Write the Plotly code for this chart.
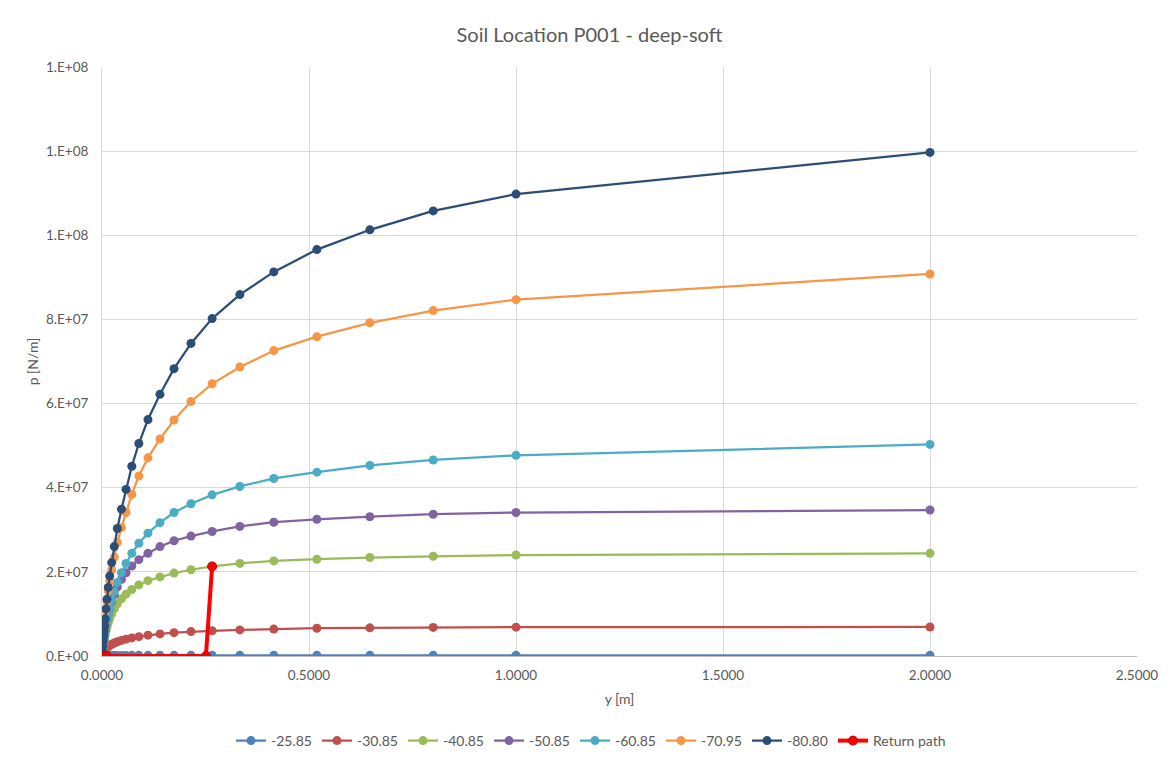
import plotly.graph_objects as go

# Displacement grid y [m]
y_m = [0, 0.001, 0.002, 0.003, 0.004, 0.0052, 0.0065, 0.008, 0.0097, 0.012,
       0.0152, 0.0186, 0.0235, 0.0297, 0.037, 0.047, 0.058, 0.072, 0.089, 0.111,
       0.140, 0.174, 0.215, 0.266, 0.333, 0.415, 0.519, 0.647, 0.80, 1.0, 2.0]

p_2585 = [0, 0.02e6, 0.04e6, 0.05e6, 0.06e6, 0.07e6, 0.08e6, 0.09e6, 0.10e6, 0.11e6,
          0.12e6, 0.12e6, 0.13e6, 0.13e6, 0.14e6, 0.14e6, 0.14e6, 0.15e6, 0.15e6, 0.15e6,
          0.15e6, 0.15e6, 0.15e6, 0.15e6, 0.15e6, 0.15e6, 0.15e6, 0.15e6, 0.15e6, 0.15e6, 0.15e6]
p_3085 = [0, 0.3e6, 0.55e6, 0.75e6, 0.95e6, 1.15e6, 1.35e6, 1.55e6, 1.75e6, 2.0e6,
          2.25e6, 2.5e6, 2.8e6, 3.1e6, 3.4e6, 3.7e6, 4.0e6, 4.3e6, 4.6e6, 4.95e6,
          5.25e6, 5.55e6, 5.8e6, 6.0e6, 6.2e6, 6.4e6, 6.6e6, 6.7e6, 6.8e6, 6.85e6, 6.9e6]
p_4085 = [0, 0.8e6, 1.6e6, 2.3e6, 3.0e6, 3.7e6, 4.5e6, 5.2e6, 6.0e6, 6.9e6,
          7.9e6, 8.9e6, 10.0e6, 11.2e6, 12.4e6, 13.6e6, 14.7e6, 15.8e6, 16.9e6, 17.9e6,
          18.8e6, 19.7e6, 20.5e6, 21.3e6, 22.0e6, 22.6e6, 23.0e6, 23.4e6, 23.7e6, 24.0e6, 24.4e6]
p_5085 = [0, 0.85e6, 1.7e6, 2.5e6, 3.3e6, 4.2e6, 5.1e6, 6.1e6, 7.2e6, 8.5e6,
          9.9e6, 11.3e6, 12.9e6, 14.6e6, 16.4e6, 18.2e6, 19.8e6, 21.4e6, 22.9e6, 24.4e6,
          26.0e6, 27.4e6, 28.5e6, 29.6e6, 30.8e6, 31.8e6, 32.5e6, 33.1e6, 33.7e6, 34.1e6, 34.7e6]
p_6085 = [0, 0.9e6, 1.75e6, 2.6e6, 3.4e6, 4.3e6, 5.2e6, 6.2e6, 7.3e6, 8.6e6,
          10.0e6, 11.5e6, 13.3e6, 15.3e6, 17.5e6, 19.8e6, 22.0e6, 24.4e6, 26.8e6, 29.2e6,
          31.7e6, 34.1e6, 36.2e6, 38.3e6, 40.3e6, 42.2e6, 43.7e6, 45.3e6, 46.6e6, 47.7e6, 50.3e6]
p_7095 = [0, 1.25e6, 2.5e6, 3.7e6, 4.9e6, 6.2e6, 7.5e6, 9.0e6, 10.8e6, 13.0e6,
          15.5e6, 17.8e6, 20.5e6, 23.5e6, 27.0e6, 30.5e6, 34.1e6, 38.4e6, 42.8e6, 47.1e6,
          51.6e6, 56.1e6, 60.5e6, 64.7e6, 68.7e6, 72.6e6, 75.9e6, 79.2e6, 82.1e6, 84.7e6, 90.8e6]
p_8080 = [0, 1.2e6, 2.4e6, 3.6e6, 4.8e6, 6.0e6, 7.2e6, 8.8e6, 11.2e6, 13.5e6,
          16.3e6, 19.0e6, 22.2e6, 26.0e6, 30.3e6, 34.9e6, 39.6e6, 45.1e6, 50.5e6, 56.2e6,
          62.2e6, 68.3e6, 74.3e6, 80.2e6, 85.9e6, 91.3e6, 96.6e6, 101.3e6, 105.8e6, 109.8e6, 119.7e6]

return_y = [0, 0.011, 0.251, 0.266]
return_p = [0, 0, 0, 21.3e6]

series_names = ["-25.85", "-30.85", "-40.85", "-50.85", "-60.85", "-70.95", "-80.80"]
series_vals = [p_2585, p_3085, p_4085, p_5085, p_6085, p_7095, p_8080]
series_colors = ["#4f81bd", "#c0504d", "#9bbb59", "#8064a2", "#4bacc6", "#f79646", "#2c4d75"]

y_tickvals = [0, 2e7, 4e7, 6e7, 8e7, 10e7, 12e7, 14e7]
y_ticktext = ["0.E+00", "2.E+07", "4.E+07", "6.E+07", "8.E+07", "1.E+08", "1.E+08", "1.E+08"]
x_tickvals = [0, 0.5, 1.0, 1.5, 2.0, 2.5]

FONT = "Lato, 'Open Sans', sans-serif"
GREY = "#595959"

W, H = 1171, 760
ML, MR, MT, MB = 94, 42, 59, 111
PW = W - ML - MR
PH = H - MT - MB

fig = go.Figure()
for name, vals, col in zip(series_names, series_vals, series_colors):
    fig.add_trace(go.Scatter(
        x=y_m, y=vals, name=name, mode="lines+markers",
        line=dict(color=col, width=2.25),
        marker=dict(color=col, size=9, line=dict(width=0)),
    ))
fig.add_trace(go.Scatter(
    x=return_y, y=return_p, name="Return path", mode="lines+markers",
    line=dict(color="#ff0000", width=4),
    marker=dict(color="#ff0000", size=9, line=dict(color="#c00000", width=1)),
))

fig.update_layout(
    width=W, height=H,
    paper_bgcolor="white", plot_bgcolor="white",
    margin=dict(l=ML, r=MR, t=MT, b=MB),
    font=dict(family=FONT, color=GREY, size=13),
    title=dict(text="Soil Location P001 - deep-soft", x=(W - 8) / 2 / W, xanchor="center",
               y=1 - 27 / H, yanchor="middle",
               font=dict(size=20, color=GREY, family=FONT)),
    showlegend=True,
    legend=dict(orientation="h", x=(583 - ML) / PW, xanchor="center",
                y=-(733 - MT - PH) / PH, yanchor="middle",
                font=dict(size=14, color=GREY), tracegroupgap=0),
    xaxis=dict(range=[0, 2.5], tickvals=x_tickvals, tickformat=".4f",
               showgrid=True, gridcolor="#d9d9d9", gridwidth=1,
               showline=True, linecolor="#bfbfbf", linewidth=1,
               zeroline=False, ticks="", tickfont=dict(size=13.5, color=GREY),
               ticklabelstandoff=7,
               title=dict(text="y [m]", font=dict(size=14, color=GREY), standoff=11)),
    yaxis=dict(range=[0, 1.4e8], tickvals=y_tickvals, ticktext=y_ticktext,
               showgrid=True, gridcolor="#d9d9d9", gridwidth=1,
               showline=True, linecolor="#d9d9d9", linewidth=1,
               zeroline=False, ticks="", tickfont=dict(size=13.5, color=GREY),
               ticklabelstandoff=10,
               title=dict(text="p [N/m]", font=dict(size=14, color=GREY), standoff=4)),
)

fig.write_html("out.html")
